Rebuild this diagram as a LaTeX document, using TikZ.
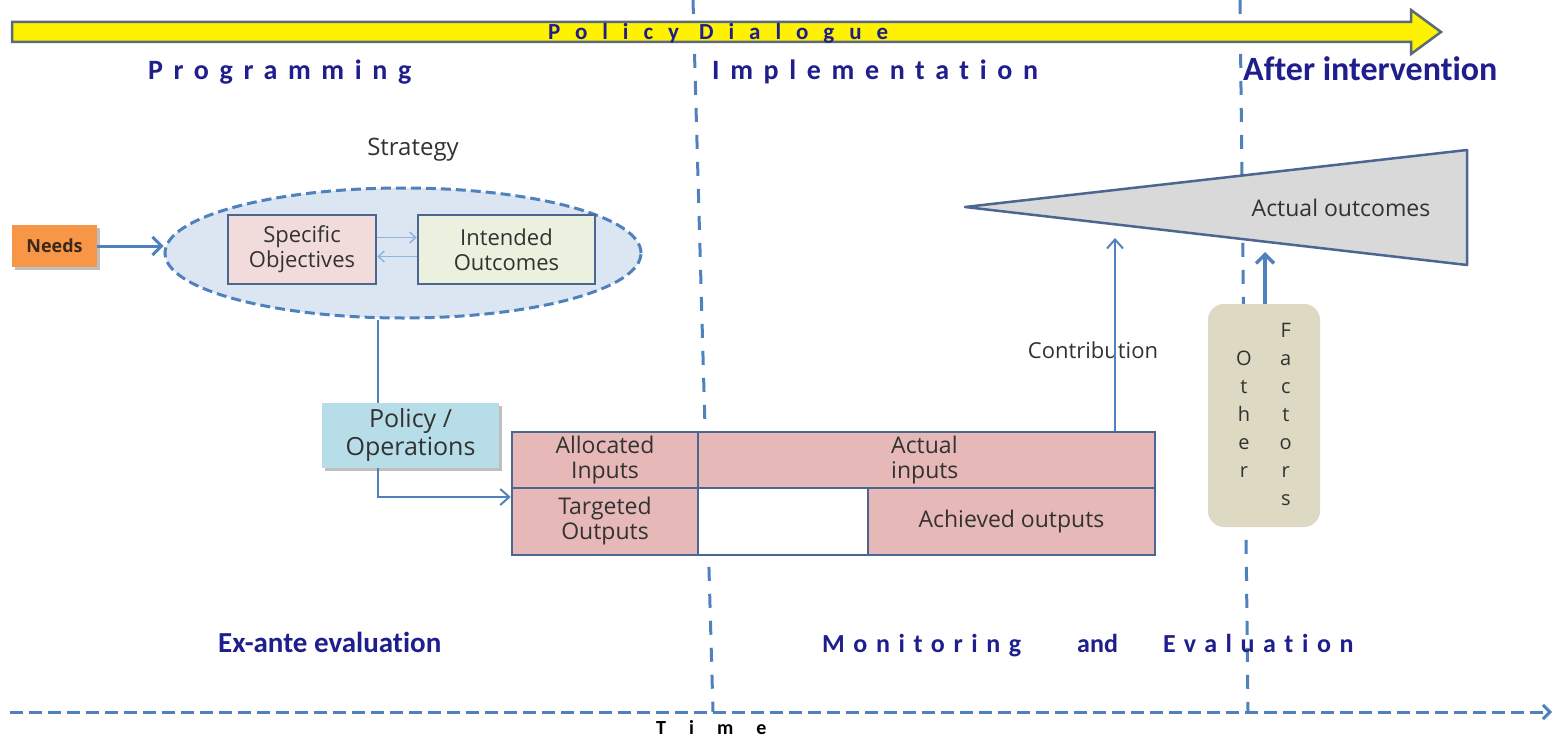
\documentclass[tikz,border=0pt]{standalone}
\usepackage{fontspec}
\setmainfont{Open Sans}
\newfontfamily\hdA{Carlito}[LetterSpace=38,Ligatures=NoCommon]
\newfontfamily\hdB{Carlito}[LetterSpace=65,Ligatures=NoCommon]
\newfontfamily\hdC{Carlito}[LetterSpace=33,Ligatures=NoCommon]
\newfontfamily\hdD{Carlito}[LetterSpace=115,Ligatures=NoCommon]
\newfontfamily\hdN{Carlito}[Ligatures=NoCommon]
\usetikzlibrary{arrows.meta,shapes.geometric}
\definecolor{hdnavy}{RGB}{30,30,140}
\definecolor{dashblue}{RGB}{79,129,189}
\definecolor{edgeblue}{RGB}{74,102,145}
\definecolor{ellfill}{RGB}{220,230,242}
\definecolor{needsfill}{RGB}{247,150,70}
\definecolor{sofill}{RGB}{242,220,219}
\definecolor{iofill}{RGB}{235,241,222}
\definecolor{polfill}{RGB}{183,222,232}
\definecolor{tabfill}{RGB}{230,185,184}
\definecolor{trifill}{RGB}{217,217,217}
\definecolor{othfill}{RGB}{221,217,195}
\definecolor{txtgrey}{RGB}{50,50,50}
\definecolor{barborder}{RGB}{90,105,125}
\definecolor{lightarrow}{RGB}{141,180,226}
\tikzset{
  boxtext/.style={font=\fontsize{22}{25}\selectfont, text=txtgrey, align=center},
  cellbox/.style={draw=edgeblue, line width=2.5pt, fill=tabfill, inner sep=0pt, boxtext, font=\fontsize{23}{25}\selectfont},
  conn/.style={draw=dashblue, line width=2pt},
  barb/.style={-{Straight Barb[length=9pt,width=16pt,line width=2pt]}},
  timeline/.style={draw=dashblue, line width=3pt, dash pattern=on 14pt off 13pt},
  heading/.style={text=hdnavy, inner sep=0pt, anchor=base west},
  shadowed/.style={preaction={fill=black!25, transform canvas={xshift=3pt,yshift=-3pt}}},
}
\begin{document}
\begin{tikzpicture}[x=1pt,y=-1pt]
\useasboundingbox (0,0) rectangle (1554,738);
% phase separators and time axis
\coordinate (d1t) at (693,0);
\coordinate (d1b) at (713,712);
\coordinate (d2t) at (1240,0);
\coordinate (d2b) at (1248,712);
\coordinate (ta) at (10,712);
\coordinate (tb) at (1552,712);
\draw[timeline] (d1t) -- (d1b);
\draw[timeline] (d2t) -- (d2b);
\draw[draw=dashblue, line width=3pt, dash pattern=on 13pt off 6pt,
  -{Straight Barb[length=7pt,width=14pt,line width=3pt]}] (ta) -- (tb);
% policy dialogue bar
\draw[fill=yellow, draw=barborder, line width=2.5pt, line join=miter]
  (12,22) -- (1411,22) -- (1411,10) -- (1441,32) -- (1411,54) -- (1411,42) -- (12,42) -- cycle;
\node[heading, font=\hdB\bfseries\fontsize{23}{23}\selectfont] (pd) at (548,40) {Policy Dialogue};
% phase headings
\node[heading, font=\hdA\bfseries\fontsize{28}{28}\selectfont] (prog) at (148,80) {Programming};
\node[heading, font=\hdA\bfseries\fontsize{28}{28}\selectfont] (impl) at (712,80) {Implementation};
\node[heading, font=\hdN\bfseries\fontsize{34}{34}\selectfont] (after) at (1243,81) {After intervention};
\node[heading, font=\hdN\bfseries\fontsize{29}{29}\selectfont] (exante) at (218,652) {Ex-ante evaluation};
\node[heading, font=\hdC\bfseries\fontsize{26}{26}\selectfont] (mon) at (822,652) {Monitoring};
\node[heading, font=\hdN\bfseries\fontsize{26}{26}\selectfont] (and) at (1077,652) {and};
\node[heading, font=\hdC\bfseries\fontsize{26}{26}\selectfont] (eval) at (1163,652) {Evaluation};
\node[heading, text=black, font=\hdD\bfseries\fontsize{20}{20}\selectfont] (time) at (656,734) {Time};
% strategy
\node[font=\fontsize{24}{24}\selectfont, text=txtgrey] (stratlbl) at (413,150) {Strategy};
\node[ellipse, draw=dashblue, line width=3pt, dash pattern=on 10pt off 5pt, fill=ellfill,
  minimum width=476pt, minimum height=130pt, inner sep=0pt] (strat) at (403,253) {};
\node[draw=edgeblue, line width=2.5pt, fill=sofill, minimum width=148pt, minimum height=69pt,
  inner sep=0pt, boxtext] (so) at (302,249.5) {Specific\\Objectives};
\node[draw=edgeblue, line width=2.5pt, fill=iofill, minimum width=177pt, minimum height=69pt,
  inner sep=0pt, boxtext] (io) at (506.5,249.5) {Intended\\Outcomes};
\draw[draw=lightarrow, line width=1.5pt, -{Straight Barb[length=6pt,width=11pt,line width=1.5pt]}]
  ([yshift=12pt]so.east) -- ([yshift=12pt]io.west);
\draw[draw=lightarrow, line width=1.5pt, -{Straight Barb[length=6pt,width=11pt,line width=1.5pt]}]
  ([yshift=-7pt]io.west) -- ([yshift=-7pt]so.east);
% needs
\node[fill=needsfill, shadowed, minimum width=85pt, minimum height=42pt, inner sep=0pt,
  font=\bfseries\fontsize{18}{18}\selectfont, text={rgb,255:red,60;green,40;blue,25}] (needs) at (54.5,246) {Needs};
\draw[conn, line width=3pt, -{Straight Barb[length=9pt,width=18pt,line width=3pt]}]
  (needs.east) -- (needs.east -| strat.west);
% policy / operations
\node[fill=polfill, shadowed, minimum width=177pt, minimum height=65pt, inner sep=0pt,
  font=\fontsize{25}{28}\selectfont, text=txtgrey, align=center] (pol) at (410.5,435.5) {Policy /\\Operations};
\coordinate (lx) at (378,0);
\draw[conn] (lx |- strat.south) -- (lx |- pol.north);
% table
\node[cellbox, minimum width=186pt, minimum height=56pt] (alloc) at (605,460) {Allocated\\Inputs};
\node[cellbox, minimum width=457pt, minimum height=56pt] (actin) at (926.5,460) {};
\node[cellbox, minimum width=186pt, minimum height=67pt] (targ) at (605,521.5) {Targeted\\Outputs};
\node[cellbox, fill=white, minimum width=170pt, minimum height=67pt] (blank) at (783,521.5) {};
\node[cellbox, minimum width=287pt, minimum height=67pt] (achv) at (1011.5,521.5) {Achieved outputs};
\node[boxtext, font=\fontsize{23}{25}\selectfont, align=left, anchor=west, inner sep=0pt] (actinlbl) at (891,460) {Actual\\inputs};
\draw[conn, barb] (lx |- pol.south) |- ([yshift=24.5pt]targ.west);
% actual outcomes
\coordinate (t1) at (965,207);
\coordinate (t2) at (1467,150);
\coordinate (t3) at (1467,265);
\draw[fill=trifill, draw=edgeblue, line width=2.5pt, line join=round] (t1) -- (t2) -- (t3) -- cycle;
\node[boxtext, font=\fontsize{23}{23}\selectfont] (outc) at (1341,208) {Actual outcomes};
% contribution
\node[boxtext, font=\fontsize{22}{22}\selectfont] (contr) at (1093,350) {Contribution};
\coordinate (ctip) at (1115,238);
\draw[conn, barb] (ctip |- actin.north) -- (ctip);
% other factors
\node[fill=othfill, rounded corners=16pt, minimum width=112pt, minimum height=223pt, inner sep=0pt,
  font=\fontsize{20}{28}\selectfont, text=txtgrey] (oth) at (1264,415.5)
  {\setlength{\tabcolsep}{14pt}\begin{tabular}{@{}cc@{}} & F\\ O & a\\ t & c\\ h & t\\ e & o\\ r & r\\ & s\end{tabular}};
\coordinate (ofa) at (1265,252);
\draw[conn, line width=3.5pt, -{Straight Barb[length=9pt,width=18pt,line width=3.5pt]}] (ofa |- oth.north) -- (ofa);
\end{tikzpicture}
\end{document}
